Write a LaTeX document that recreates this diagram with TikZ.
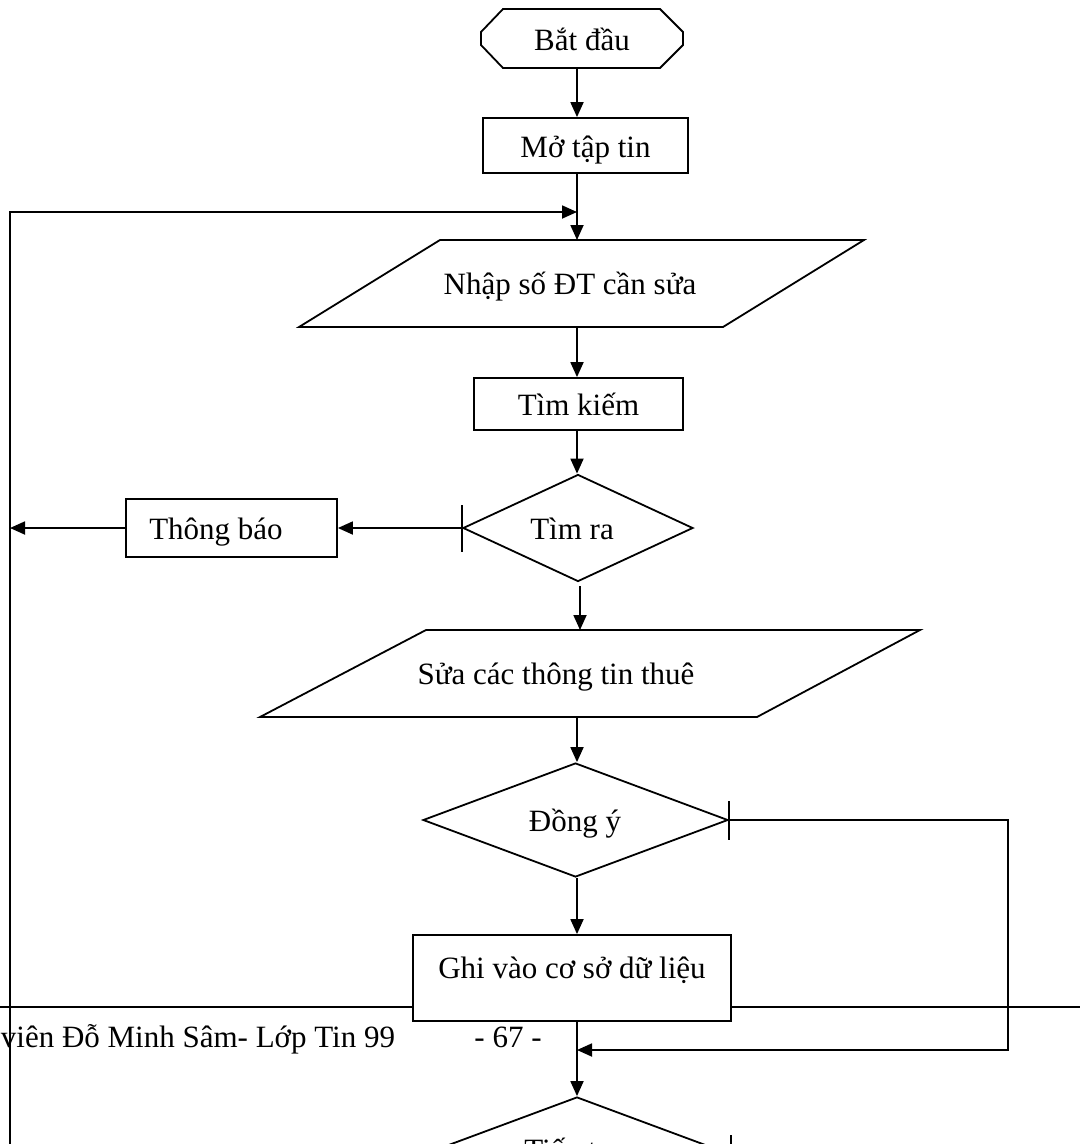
\documentclass[tikz,border=0pt]{standalone}
\usepackage{fontspec}
\setmainfont{Liberation Serif}
\usetikzlibrary{shapes.geometric,arrows.meta}
\begin{document}
\begin{tikzpicture}[x=1pt,y=-1pt,
  line width=1.8pt,
  every node/.style={font=\fontsize{31}{37}\selectfont, inner sep=0pt, text height=30pt, text depth=7pt},
  box/.style={draw, fill=white, rectangle},
  decision/.style={draw, fill=white, diamond, shape aspect=2.2},
  flow/.style={-{Triangle[length=15pt,width=13pt]}}]
\useasboundingbox (0,0) rectangle (1080,1144);
\clip (0,0) rectangle (1080,1144);

% page footer: rule, author line and page number
\coordinate (ruleL) at (0,1007);
\coordinate (ruleR) at (1080,1007);
\draw (ruleL) -- (ruleR);
\node[anchor=west] (author) at (0,1036) {viên Đỗ Minh Sâm- Lớp Tin 99};
\node (page) at (508,1036) {- 67 -};

% main column and left return rail
\coordinate (spine) at (577,0);
\coordinate (rail) at (10,0);

% start terminal (chamfered)
\node (start) at (582,38.5) {Bắt đầu};
\draw (503,9) -- (660,9) -- (683,32) -- (683,45) -- (660,68) -- (503,68) -- (481,45) -- (481,32) -- cycle;
\coordinate (startB) at (577,68);

% steps
\node[box, minimum width=205, minimum height=55] (open) at (585.5,145.5) {Mở tập tin};

\node (input) at (570,283) {Nhập số ĐT cần sửa};
\draw (440,240) -- (864,240) -- (723,327) -- (299,327) -- cycle;
\coordinate (inputT) at (577,240);
\coordinate (inputB) at (577,327);
\coordinate (join) at (577,212);

\node[box, minimum width=209, minimum height=52] (search) at (578.5,404) {Tìm kiếm};

\node[decision, minimum width=230, minimum height=107] (found) at (578,528) {};
\node (foundT) at (572,528) {Tìm ra};

\node[box, minimum width=211, minimum height=58] (notify) at (231.5,528) {};
\node (notifyT) at (216,528) {Thông báo};

\node (edit) at (556,673) {Sửa các thông tin thuê};
\draw (426,630) -- (920,630) -- (757,717) -- (260,717) -- cycle;
\coordinate (editT) at (580,630);
\coordinate (editB) at (577,717);
\coordinate (foundB) at (580,586);

\node[decision, minimum width=305, minimum height=114] (agree) at (575.5,820) {};
\node (agreeT) at (575,820) {Đồng ý};

\node[box, minimum width=318, minimum height=86, text height=20pt, text depth=20pt] (save) at (572,978) {Ghi vào cơ sở dữ liệu};

\node[decision, minimum width=306, minimum height=114] (cont) at (577,1154) {};
\node (contT) at (575,1149) {Tiếp tục};

% connectors
\draw[flow] (startB) -- (open.north -| startB);
\draw[flow] (open.south -| spine) -- (inputT);
\draw[flow] (inputB) -- (search.north -| spine);
\draw[flow] (search.south -| spine) -- (found.north -| spine);
\draw[flow] (foundB) -- (editT);
\draw[flow] (editB) -- (agree.north -| spine);
\draw[flow] (agree.south -| spine) -- (save.north -| spine);
\draw[flow] (save.south -| spine) -- (cont.north);

% "no" branch of the search test
\draw ([yshift=-23.5pt]found.west) -- ([yshift=23.5pt]found.west);
\draw[flow] (found.west) -- (notify.east);
\draw[flow] (notify.west) -- (notify.west -| rail);
\draw[flow] (rail |- 0,1150) -- (rail |- join) -- (join);

% "no" branch of the confirm test
\coordinate (loopR) at (1008,820);
\coordinate (loopRB) at (1008,1050);
\coordinate (merge) at (577,1050);
\draw ([yshift=-19.5pt]agree.east) -- ([yshift=19.5pt]agree.east);
\draw[flow] (agree.east) -- (loopR) -- (loopRB) -- (merge);

% tick on the continue test
\draw ([yshift=-19pt]cont.east) -- ([yshift=19pt]cont.east);
\end{tikzpicture}
\end{document}
